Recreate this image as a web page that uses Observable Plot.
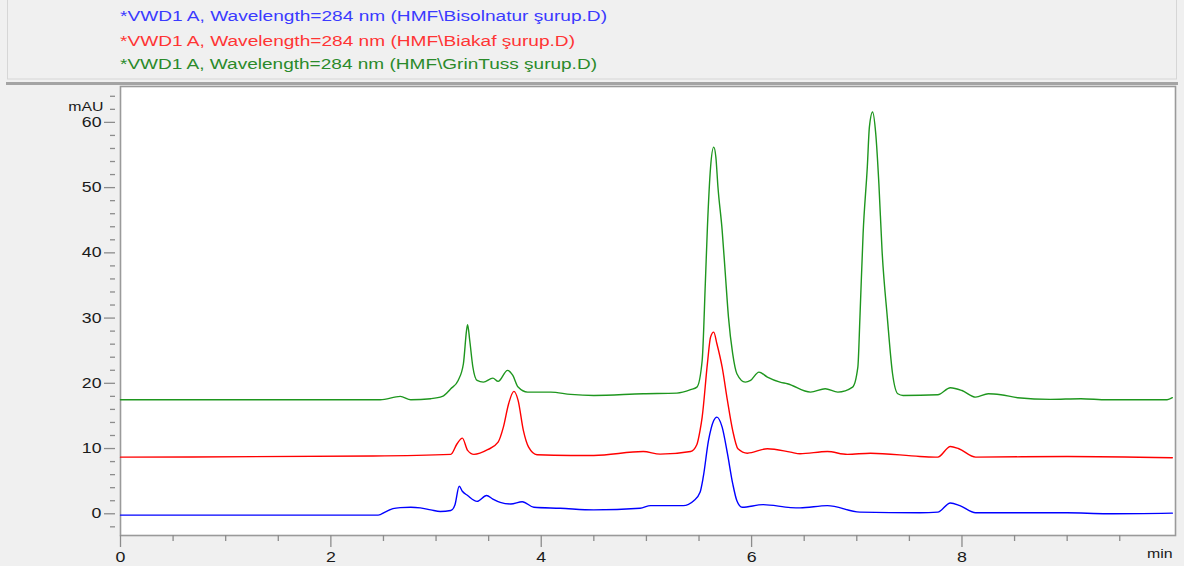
<!DOCTYPE html>
<html><head><meta charset="utf-8">
<script src="https://cdn.jsdelivr.net/npm/d3@7"></script>
<script src="https://cdn.jsdelivr.net/npm/@observablehq/plot@0.6"></script>
<style>
html,body{margin:0;padding:0;background:#f0f0f0;}
#wrap{position:relative;width:1184px;height:566px;overflow:hidden;background:#f0f0f0;font-family:"Liberation Sans",Arial,sans-serif;}
#legend{position:absolute;left:0;top:0;}
#sep{position:absolute;left:6px;top:82px;width:1172px;height:3px;background:#a4a4a4;}
#chart{position:absolute;left:0;top:85px;}
</style></head>
<body><div id="wrap"><svg id="legend" width="1184" height="82"></svg><div id="sep"></div><div id="chart"></div></div>
<script>
// ---- data ----
const seriesNames = [
  "*VWD1 A, Wavelength=284 nm (HMF\\Bisolnatur şurup.D)",
  "*VWD1 A, Wavelength=284 nm (HMF\\Biakaf şurup.D)",
  "*VWD1 A, Wavelength=284 nm (HMF\\GrinTuss şurup.D)"
];
const lineColors = ["#0000ff", "#ff0000", "#1e961e"];
const legendColors = ["#3a3aff", "#ff3434", "#2a8a2a"];

const blueTime = [0, 2.45, 2.52, 2.59, 2.66, 2.76, 2.85, 2.95, 3.04, 3.14, 3.18, 3.22, 3.25, 3.30, 3.39, 3.48, 3.54, 3.61, 3.71, 3.82, 3.93, 4.18, 4.50, 4.94, 5.04, 5.35, 5.45, 5.51, 5.54, 5.59, 5.64, 5.67, 5.72, 5.77, 5.82, 5.86, 5.91, 6.11, 6.37, 6.46, 6.72, 7.03, 7.60, 7.77, 7.89, 7.98, 8.13, 9.00, 9.38, 10.0];
const blueMAU  = [-0.2, -0.2, 0.3, 0.8, 0.95, 1.0, 0.9, 0.6, 0.35, 0.5, 1.4, 4.23, 3.45, 2.8, 1.9, 2.8, 2.25, 1.75, 1.5, 1.85, 1.0, 0.85, 0.6, 0.85, 1.25, 1.25, 2.0, 3.3, 5.6, 11.2, 14.3, 14.82, 13.28, 9.25, 4.65, 2.0, 1.0, 1.4, 0.95, 0.9, 1.25, 0.25, 0.15, 0.25, 1.65, 1.25, 0.15, 0.15, 0.0, 0.1];

const redTime = [0, 2.40, 3.14, 3.20, 3.25, 3.30, 3.36, 3.49, 3.59, 3.64, 3.69, 3.74, 3.78, 3.83, 3.88, 3.96, 4.28, 4.50, 4.97, 5.13, 5.42, 5.48, 5.51, 5.53, 5.58, 5.61, 5.64, 5.67, 5.72, 5.77, 5.82, 5.87, 5.96, 6.15, 6.37, 6.46, 6.72, 6.91, 7.13, 7.60, 7.77, 7.89, 7.97, 8.13, 9.00, 10.0];
const redMAU  = [8.68, 8.85, 9.1, 10.74, 11.6, 9.71, 9.1, 9.82, 10.98, 13.28, 16.87, 18.76, 17.38, 12.78, 10.21, 9.05, 8.94, 8.94, 9.55, 9.14, 9.55, 10.63, 12.78, 14.82, 23.05, 27.09, 27.85, 26.07, 22.48, 17.38, 12.78, 9.97, 9.29, 9.97, 9.45, 9.2, 9.55, 9.1, 9.29, 8.79, 8.68, 10.32, 9.97, 8.68, 8.79, 8.59];

const greenTime = [0, 2.47, 2.66, 2.76, 2.95, 3.06, 3.14, 3.21, 3.26, 3.29, 3.30, 3.32, 3.35, 3.39, 3.45, 3.54, 3.59, 3.68, 3.73, 3.78, 3.87, 4.09, 4.28, 4.50, 4.97, 5.29, 5.42, 5.48, 5.53, 5.56, 5.58, 5.61, 5.64, 5.66, 5.68, 5.72, 5.75, 5.78, 5.82, 5.86, 5.94, 5.99, 6.07, 6.15, 6.27, 6.34, 6.56, 6.70, 6.82, 6.96, 7.01, 7.03, 7.06, 7.10, 7.12, 7.15, 7.18, 7.21, 7.24, 7.29, 7.34, 7.39, 7.44, 7.77, 7.89, 8.00, 8.13, 8.25, 8.37, 8.53, 8.84, 9.13, 9.38, 9.95, 10.0];
const greenMAU  = [17.48, 17.48, 17.99, 17.48, 17.64, 17.99, 19.17, 20.44, 23.0, 28.1, 29.0, 26.6, 22.5, 20.44, 20.18, 20.8, 20.29, 21.98, 21.2, 19.42, 18.65, 18.65, 18.3, 18.14, 18.4, 18.5, 19.02, 19.42, 23.5, 35.3, 43.96, 53.16, 56.2, 54.7, 50.1, 43.45, 36.8, 30.15, 24.54, 21.47, 20.18, 20.44, 21.72, 20.95, 20.18, 19.94, 18.65, 19.17, 18.65, 19.42, 22.48, 30.15, 42.94, 53.16, 59.3, 61.6, 58.3, 50.6, 40.4, 30.15, 21.47, 18.4, 18.14, 18.25, 19.33, 18.9, 17.88, 18.4, 18.25, 17.79, 17.53, 17.64, 17.48, 17.48, 17.79];

const xMajorTicks = [0, 2, 4, 6, 8];
const xMinorTicks = [0.5, 1, 1.5, 2.5, 3, 3.5, 4.5, 5, 5.5, 6.5, 7, 7.5, 8.5, 9, 9.5];
const yMajorTicks = [0, 10, 20, 30, 40, 50, 60];
const yMinorTicks = [-2, 2, 4, 6, 8, 12, 14, 16, 18, 22, 24, 26, 28, 32, 34, 36, 38, 42, 44, 46, 48, 52, 54, 56, 58, 62, 64];
const yUnit = "mAU";
const xUnit = "min";

// ---- legend header ----
const legendWidths = [487, 455, 477];
const legendBaselines = [21, 46, 69];
const NS = "http://www.w3.org/2000/svg";
const leg = document.getElementById("legend");
const panel = document.createElementNS(NS, "rect");
panel.setAttribute("x", 7.5); panel.setAttribute("y", -1);
panel.setAttribute("width", 1169); panel.setAttribute("height", 80);
panel.setAttribute("fill", "#f0f0f0"); panel.setAttribute("stroke", "#d6d6d6");
leg.appendChild(panel);
seriesNames.forEach((name, i) => {
  const t = document.createElementNS(NS, "text");
  t.setAttribute("x", 120);
  t.setAttribute("y", legendBaselines[i]);
  t.setAttribute("fill", legendColors[i]);
  t.setAttribute("font-size", "14");
  t.setAttribute("font-family", "Liberation Sans, Arial, sans-serif");
  t.setAttribute("textLength", legendWidths[i]);
  t.setAttribute("lengthAdjust", "spacingAndGlyphs");
  t.textContent = name;
  leg.appendChild(t);
});

// ---- chart ----
const series = [[blueTime, blueMAU], [redTime, redMAU], [greenTime, greenMAU]];
const tickColor = "#8c8c8c";

const lines = series.map(([ts, vs], i) =>
  Plot.line(ts.map((t, j) => ({t, v: vs[j]})), {
    x: "t", y: "v", stroke: lineColors[i], strokeWidth: 1.4, curve: "monotone-x"
  })
);

const chart = Plot.plot({
  width: 1184,
  height: 481,
  marginLeft: 120,
  marginRight: 9,
  marginTop: 1,
  marginBottom: 31,
  style: {background: "transparent", fontFamily: "Liberation Sans, Arial, sans-serif", fontSize: "14.5px", color: "#1a1a1a", overflow: "visible"},
  x: {domain: [0, 10.03]},
  y: {domain: [-3.33, 65.5]},
  marks: [
    Plot.frame({fill: "white", stroke: "#9a9a9a", strokeWidth: 1.6}),
    Plot.axisX({ticks: xMajorTicks, tickSize: 12, tickPadding: 4, stroke: tickColor, strokeWidth: 1.3, label: null}),
    Plot.axisX({ticks: xMinorTicks, tickSize: 6, text: null, stroke: tickColor, strokeWidth: 1.3, label: null}),
    Plot.axisY({ticks: yMajorTicks, tickSize: 11, tickPadding: 3, dx: -5, stroke: tickColor, strokeWidth: 1.3, label: null}),
    Plot.axisY({ticks: yMinorTicks, tickSize: 5, dx: -5, text: null, stroke: tickColor, strokeWidth: 1.3, label: null}),
    ...lines,
    Plot.text([yUnit], {text: d => d, frameAnchor: "top-left", dx: -17, dy: 15.5, textAnchor: "end", fontSize: 13, fill: "#1a1a1a"}),
    Plot.text([xUnit], {text: d => d, frameAnchor: "bottom-right", dx: -3, dy: 22, textAnchor: "end", fontSize: 13, fill: "#1a1a1a"})
  ]
});
document.getElementById("chart").appendChild(chart);

// horizontally widen text glyphs to match the reference's stretched look
chart.querySelectorAll("text").forEach(el => {
  const L = el.getComputedTextLength();
  if (L > 0) {
    el.setAttribute("textLength", (L * 1.22).toFixed(1));
    el.setAttribute("lengthAdjust", "spacingAndGlyphs");
  }
});
</script>
</body></html>
